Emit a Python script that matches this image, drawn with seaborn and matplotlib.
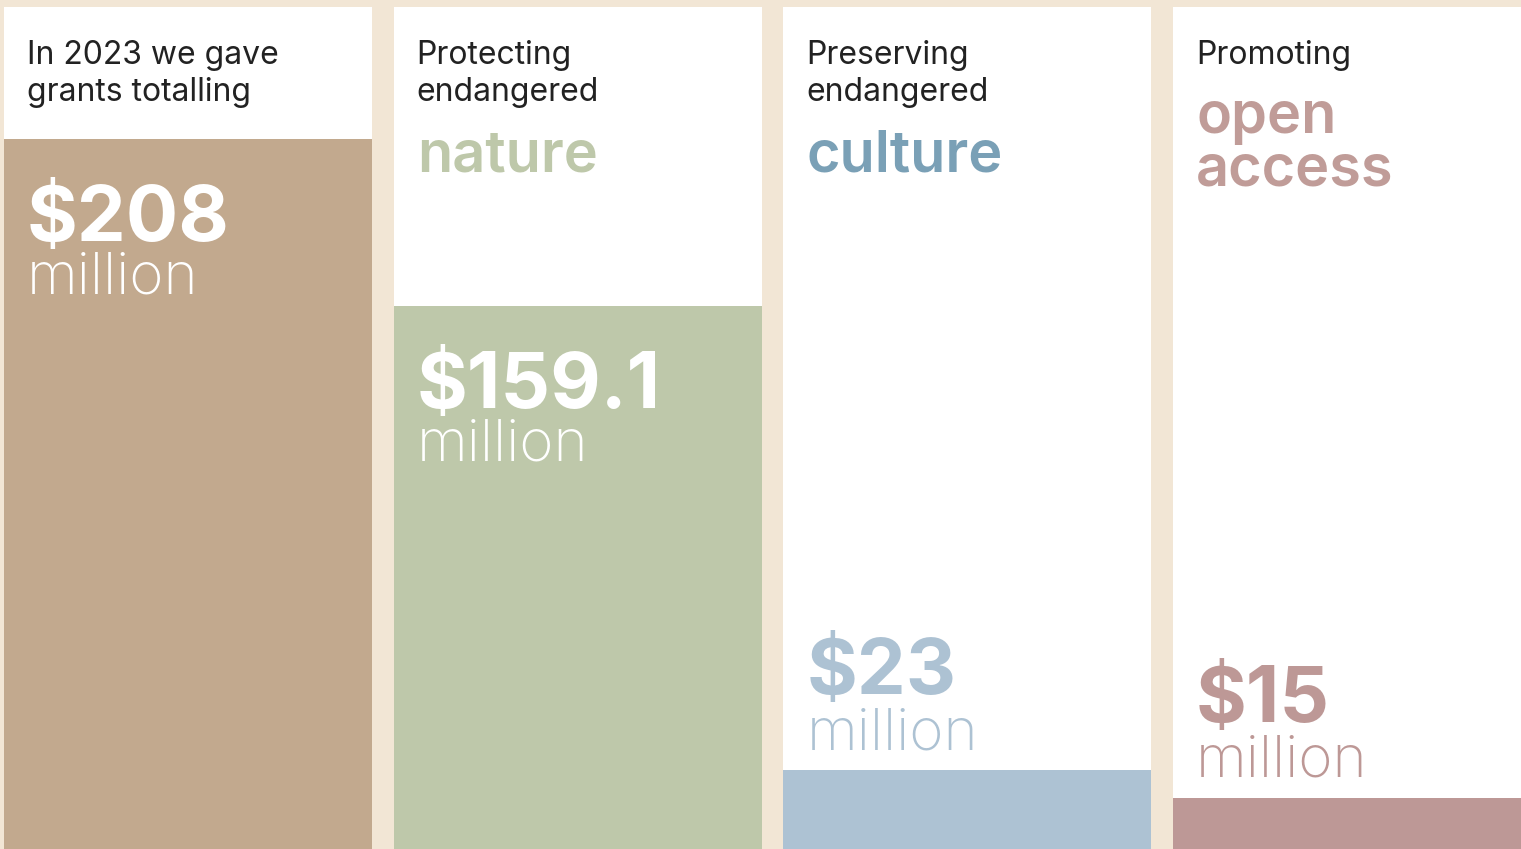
import matplotlib
matplotlib.use("Agg")
import matplotlib.pyplot as plt
import seaborn as sns
import pandas as pd

# ---- data ----
categories = ["total", "nature", "culture", "open access"]
values = [208, 159.1, 23, 15]
value_labels = ["$208", "$159.1", "$23", "$15"]
unit_labels = ["million", "million", "million", "million"]
headings = [["In 2023 we gave", "grants totalling"],
            ["Protecting", "endangered"],
            ["Preserving", "endangered"],
            ["Promoting"]]
keywords = [[], ["nature"], ["culture"], ["open", "access"]]

# ---- styles ----
BG = "#f2e6d5"
bar_colors = ["#c2a98e", "#bec8aa", "#adc2d3", "#bd9896"]
keyword_colors = ["#000000", "#bec8aa", "#7aa0b6", "#c09c98"]
value_colors = ["white", "white", "#adc2d3", "#bd9896"]
DARK = "#222222"

sns.set_theme(style="white")
plt.rcParams["font.family"] = ["Inter", "DejaVu Sans"]

W, H = 1521, 849
fig = plt.figure(figsize=(W / 100, H / 100), dpi=100)
fig.patch.set_facecolor(BG)
ax = fig.add_axes([0, 0, 1, 1])
ax.set_facecolor(BG)

df = pd.DataFrame({"cat": categories, "val": values})
panel_top = max(values) * 842 / 710
bg_df = pd.DataFrame({"cat": categories, "val": [panel_top] * len(categories)})

sns.barplot(data=bg_df, x="cat", y="val", color="white", width=0.944,
            saturation=1, ax=ax, linewidth=0)
sns.barplot(data=df, x="cat", y="val", hue="cat", palette=bar_colors,
            width=0.944, saturation=1, ax=ax, legend=False, linewidth=0)

ax.set_xlim(-0.4825, 3.421)
ax.set_ylim(0, max(values) * 849 / 710)
ax.axis("off")

DX = -0.413  # text left offset from category centre


def ytop(py):
    return H - py


for i in range(len(categories)):
    x = i + DX
    # heading lines
    for j, line in enumerate(headings[i]):
        ax.annotate(line, xy=(x, ytop(64 + 37 * j)), xycoords=("data", "figure pixels"),
                    ha="left", va="baseline", fontsize=23, color=DARK,
                    fontweight="normal")
    # keyword lines
    kw = keywords[i]
    start = 171 if len(headings[i]) == 2 else 133
    for j, line in enumerate(kw):
        ax.annotate(line, xy=(x, ytop(start + 52 * j)), xycoords=("data", "figure pixels"),
                    ha="left", va="baseline", fontsize=41.5, color=keyword_colors[i],
                    fontweight="semibold")
    # value labels
    inside = values[i] > 100
    off_val = -102 if inside else 76
    off_unit = -155 if inside else 21
    ax.annotate(value_labels[i], xy=(x, values[i]), xytext=(0, off_val),
                textcoords="offset pixels", ha="left", va="baseline",
                fontsize=56, fontweight="bold", color=value_colors[i])
    ax.annotate(unit_labels[i], xy=(x, values[i]), xytext=(0, off_unit),
                textcoords="offset pixels", ha="left", va="baseline",
                fontsize=42, fontweight="light", color=value_colors[i])

fig.savefig("out.png", dpi=100, facecolor=BG)
